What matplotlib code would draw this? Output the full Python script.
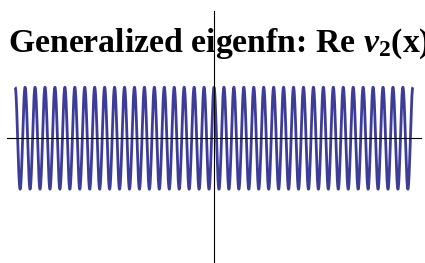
import numpy as np
import matplotlib
matplotlib.use("Agg")
import matplotlib.pyplot as plt

# data
x_min, x_max = -20.0, 20.0
x = np.linspace(x_min, x_max, 8001)
y = np.cos(2 * np.pi * x)
title = r"Generalized eigenfn: Re $\mathit{v}_{\mathbf{2}}$(x)"

plt.rcParams['mathtext.fontset'] = 'custom'
plt.rcParams['mathtext.rm'] = 'Liberation Serif:bold'
plt.rcParams['mathtext.it'] = 'Liberation Serif:italic:bold'
plt.rcParams['mathtext.bf'] = 'Liberation Serif:bold'

W, H = 425, 263
fig = plt.figure(figsize=(W / 100, H / 100), dpi=100)
ax = fig.add_axes([0, 0, 1, 1])

ppx = 397.7 / 40.0
cx = 214.0
ppy = 51.0
cy = 138.2
ax.set_xlim(-cx / ppx, (W - cx) / ppx)
ax.set_ylim(-(H - cy) / ppy, cy / ppy)

ax.plot(x, y, color='#3d3d99', lw=2.0, solid_capstyle='butt')

for s in ['top', 'right']:
    ax.spines[s].set_visible(False)
ax.spines['left'].set_position(('data', 0))
ax.spines['bottom'].set_position(('data', 0))
ax.spines['left'].set_bounds(-(H - cy) / ppy, (cy - 10.7) / ppy)
ax.spines['bottom'].set_bounds((7 - cx) / ppx, (421 - cx) / ppx)
for s in ['left', 'bottom']:
    ax.spines[s].set_linewidth(0.8)
    ax.spines[s].set_color('black')
ax.set_xticks([])
ax.set_yticks([])
ax.patch.set_visible(False)

fig.text(8 / W, (H - 51.7) / H, title, fontsize=24.3, fontweight='bold',
         family='Liberation Serif', va='baseline', ha='left')

fig.savefig('out.png', dpi=100)
